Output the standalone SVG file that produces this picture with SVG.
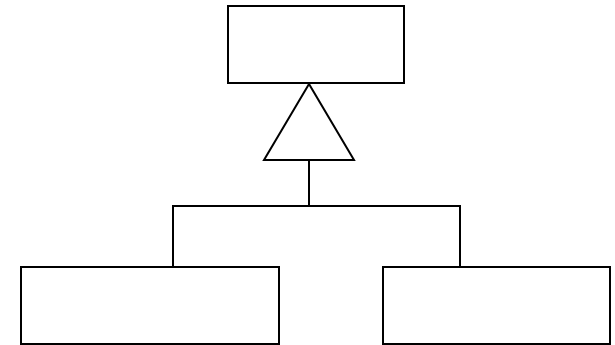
<svg xmlns="http://www.w3.org/2000/svg" width="615" height="345" viewBox="0 0 615 345">
<style>
.n{fill:#fff;stroke:#000;stroke-width:2}
.c{fill:none;stroke:#000;stroke-width:2}
</style>
<rect x="0" y="0" width="615" height="345" fill="#fff"/>
<g id="parent"><rect class="n" x="228" y="6" width="176" height="77"/></g>
<g id="childLeft"><rect class="n" x="21" y="267" width="258" height="77"/></g>
<g id="childRight"><rect class="n" x="383" y="267" width="227" height="77"/></g>
<g id="connectors">
<polygon class="c" points="309,84 264,160 354,160"/>
<path class="c" d="M309,160 V206 M173,206 H460 M173,205 V267 M460,205 V267"/>
</g>
</svg>
